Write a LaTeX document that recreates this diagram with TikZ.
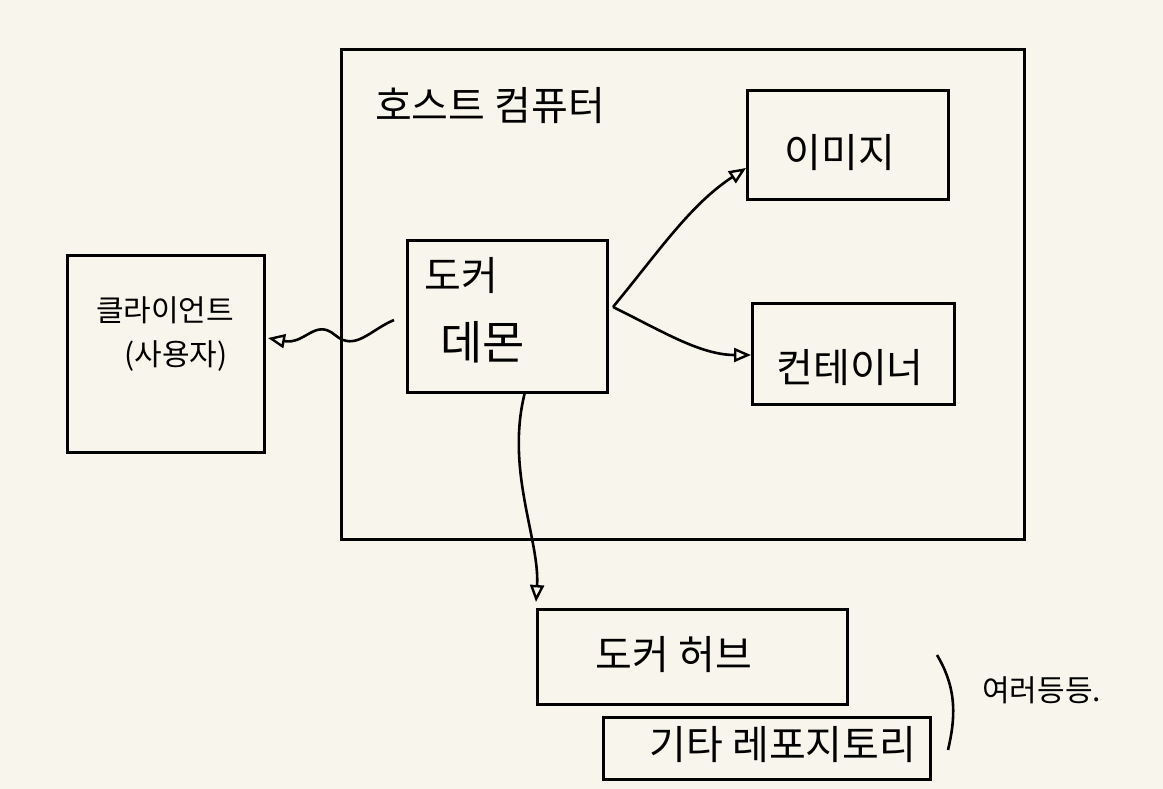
\documentclass[tikz,border=0pt]{standalone}
\usepackage{fontspec}
\newfontfamily\kr{Noto Sans CJK KR}[Scale=1]
\usetikzlibrary{arrows.meta,positioning}
\definecolor{paper}{HTML}{F7F5EC}
\begin{document}
\begin{tikzpicture}[x=1pt,y=-1pt,
  box/.style={draw=black,line width=2.8pt,rectangle,inner sep=0pt,anchor=north west},
  lbl/.style={font=\kr\fontsize{40}{44}\selectfont,inner sep=0pt},
  clbl/.style={font=\kr\fontsize{30}{32}\selectfont,inner sep=0pt},
  conn/.style={line width=2.6pt,-{Triangle[open,length=17pt,width=14pt,line width=2.4pt]}}]
\fill[paper] (0,0) rectangle (1163,789);
\useasboundingbox (0,0) rectangle (1163,789);
% boxes
\node[box,minimum width=683pt,minimum height=490pt] (host) at (340,48) {};
\node[box,minimum width=197pt,minimum height=197pt] (client) at (66,254) {};
\node[box,minimum width=200pt,minimum height=152pt] (daemon) at (406,239) {};
\node[box,minimum width=201pt,minimum height=109pt] (image) at (746,89) {};
\node[box,minimum width=202pt,minimum height=101pt] (container) at (751,302) {};
\node[box,minimum width=310pt,minimum height=95pt] (hub) at (536,608) {};
\node[box,minimum width=327pt,minimum height=62pt] (repo) at (602,716) {};
% labels
\node[lbl] (hostlbl) at (490,106) {호스트 컴퓨터};
\node[lbl] (imagelbl) at (840,153) {이미지};
\node[lbl,anchor=west] (daemonlbl1) at (424,276) {도커};
\node[lbl,anchor=west,font=\kr\fontsize{46}{50}\selectfont] (daemonlbl2) at (440,342) {데몬};
\node[lbl] (containerlbl) at (850,368) {컨테이너};
\node[clbl] (clientlbl1) at (165,310) {클라이언트};
\node[clbl] (clientlbl2) at (176,356) {(사용자)};
\node[lbl] (hublbl) at (674,655) {도커 허브};
\node[lbl] (repolbl) at (783,745) {기타 레포지토리};
\node[lbl,font=\kr\fontsize{30}{34}\selectfont,anchor=west] (etclbl) at (982,690) {여러등등.};
% paren
\coordinate (pa) at (937,655);
\coordinate (pb) at (948,750);
\draw[line width=2.6pt] (pa) .. controls (958,690) and (955,720) .. (pb);
% connectors
\coordinate (dwest) at (394,320);
\coordinate (deast) at (613,307);
\coordinate (dsouth) at (525,392);
\draw[conn] (dwest) .. controls (370,330) and (355,352) .. (335,335)
  .. controls (315,318) and (305,345) .. (268,338);
\draw[conn] (deast) .. controls (660,250) and (690,205) .. (image.west|-0,168);
\draw[conn] (deast) .. controls (660,330) and (700,355) .. (container.west|-0,355);
\draw[conn] (dsouth) .. controls (505,470) and (540,540) .. (hub.north west|-575,602);
\end{tikzpicture}
\end{document}
